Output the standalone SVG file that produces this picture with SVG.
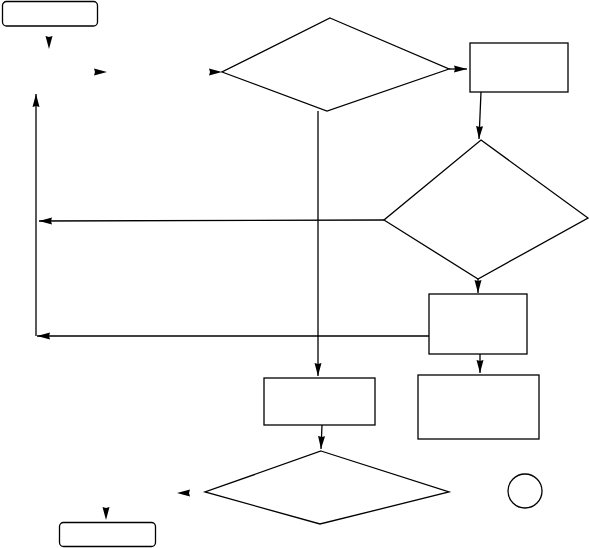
<svg xmlns="http://www.w3.org/2000/svg" width="589" height="548" viewBox="0 0 589 548">
<style>
.n{fill:#fff;stroke:#000;stroke-width:1.3}
.c{fill:none;stroke:#000;stroke-width:1.3;marker-end:url(#ah)}
.g{fill:none;stroke:none;marker-end:url(#ah)}
</style>
<defs>
<marker id="ah" markerUnits="userSpaceOnUse" markerWidth="14" markerHeight="8" refX="13" refY="4" orient="auto">
<path d="M0,0.5 L13,4 L0,7.5 L1,4 Z" fill="#000"/>
</marker>
</defs>
<rect width="589" height="548" fill="#fff"/>
<g id="start"><rect class="n" x="2.5" y="1.5" width="95" height="24.5" rx="4"/></g>
<g id="decision1"><polygon class="n" points="330,18 449,69 327,111 222,72"/></g>
<g id="process1"><rect class="n" x="470" y="43" width="98" height="49"/></g>
<g id="decision2"><polygon class="n" points="481,140 588,218 478,279 384,220"/></g>
<g id="process2"><rect class="n" x="429" y="294" width="98" height="60"/></g>
<g id="process3"><rect class="n" x="418" y="375" width="121" height="64"/></g>
<g id="process4"><rect class="n" x="264" y="378" width="111" height="47"/></g>
<g id="decision3"><polygon class="n" points="321,451 449,492 320,524 205,492"/></g>
<g id="connector"><circle class="n" cx="525" cy="491" r="17"/></g>
<g id="end"><rect class="n" x="59.5" y="522.5" width="96" height="24" rx="4"/></g>
<g id="connectors">
<path class="g" d="M49,30 L49,49"/>
<path class="g" d="M90,72 L107,72"/>
<path class="g" d="M200,72 L222,72"/>
<path class="c" d="M36,336 L36,94"/>
<path class="c" d="M449,69 L467,69"/>
<path class="c" d="M481,92 L479,139"/>
<path class="c" d="M384,220 L39,221"/>
<path class="c" d="M478,279 L478,293"/>
<path class="c" d="M429,336 L37,336"/>
<path class="c" d="M480,354 L480,373"/>
<path class="c" d="M318,111 L318,376"/>
<path class="c" d="M322,425 L321,449"/>
<path class="g" d="M195,493 L177,493"/>
<path class="g" d="M106,505 L106,520"/>
</g>
</svg>
